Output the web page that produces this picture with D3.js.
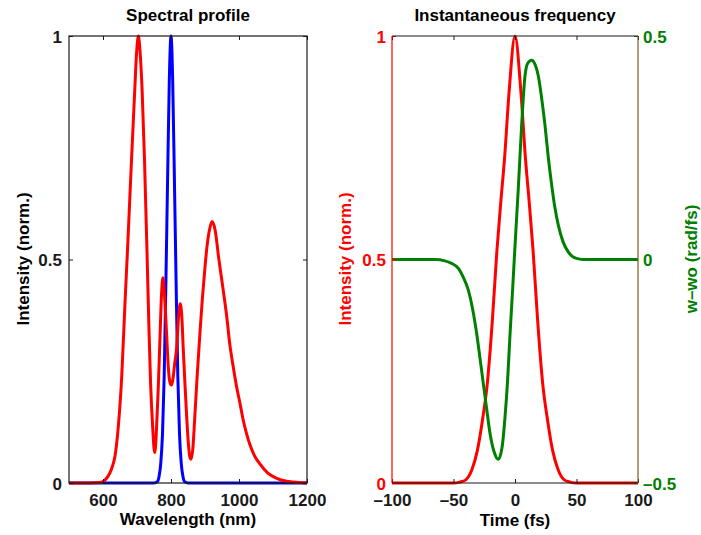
<!DOCTYPE html>
<html>
<head>
<meta charset="utf-8">
<script src="https://cdn.jsdelivr.net/npm/d3@7"></script>
<style>
  body { margin: 0; background: #fff; }
  svg { display: block; font-family: "Liberation Sans", Arial, Helvetica, sans-serif; font-weight: bold; }
</style>
</head>
<body>
<svg></svg>
<script>
// two-panel pulse figure: spectrum (left), intensity + instantaneous frequency (right)

const width = 701;
const height = 535;

// spectrum (nm -> norm. intensity)
const specWl = [500, 560, 590, 600, 610, 620, 628, 635, 645, 655, 665, 672, 684, 693, 699, 704, 709, 715, 722, 730, 735, 740, 746, 752, 756, 759, 763, 768, 772, 776, 780, 787, 792, 797, 802, 807, 811, 816, 822, 827, 832, 836, 841, 846, 851, 855, 859, 864, 870, 877, 885, 892, 900, 906, 912, 921, 930, 940, 952, 964, 973, 983, 993, 1003, 1012, 1022, 1032, 1045, 1062, 1085, 1111, 1140, 1160, 1200];
const specOut = [0, 0, 0.001, 0.003, 0.01, 0.022, 0.038, 0.059, 0.126, 0.237, 0.408, 0.52, 0.725, 0.873, 0.965, 1.0, 0.965, 0.88, 0.725, 0.5, 0.35, 0.222, 0.126, 0.068, 0.1, 0.15, 0.222, 0.334, 0.42, 0.459, 0.43, 0.334, 0.26, 0.225, 0.219, 0.24, 0.268, 0.297, 0.37, 0.401, 0.37, 0.3, 0.222, 0.15, 0.089, 0.06, 0.053, 0.075, 0.148, 0.24, 0.334, 0.41, 0.483, 0.53, 0.562, 0.585, 0.565, 0.505, 0.44, 0.372, 0.31, 0.26, 0.215, 0.178, 0.142, 0.111, 0.086, 0.062, 0.042, 0.022, 0.0105, 0.004, 0.002, 0];

const specInWl = [500, 750, 760, 765, 770, 775, 780, 785, 790, 795, 800, 805, 810, 815, 820, 825, 830, 835, 840, 850, 1200];
const specIn = [0, 0, 0.003, 0.015, 0.045, 0.11, 0.24, 0.45, 0.68, 0.9, 1, 0.9, 0.68, 0.45, 0.24, 0.11, 0.045, 0.015, 0.003, 0, 0];

// temporal intensity (fs -> norm.)
const timeI = [-100, -50, -45, -40, -35, -30.5, -26.5, -22.5, -18.5, -14.7, -11.5, -8.5, -4.8, 0, 4.8, 8.5, 11.5, 14.7, 18.5, 22.5, 26.5, 30.5, 35, 40, 45, 50, 100];
const intensity = [0, 0, 0.002, 0.007, 0.03, 0.074, 0.14, 0.223, 0.36, 0.52, 0.63, 0.726, 0.875, 1, 0.875, 0.726, 0.63, 0.52, 0.36, 0.223, 0.14, 0.074, 0.03, 0.007, 0.002, 0, 0];

// instantaneous frequency offset (fs -> rad/fs)
const timeW = [-100, -65, -57, -52, -46, -42, -38, -34.5, -31.2, -28.5, -25.8, -23, -20.3, -17, -13.6, -10.5, -8.1, -6, -4.1, -2, 0, 2.7, 5.4, 8.1, 10.5, 13.6, 16.5, 19, 21.7, 24.4, 27, 29.8, 32.5, 35.2, 39, 43.3, 47, 51, 56, 100];
const dOmega = [0, 0, -0.003, -0.008, -0.02, -0.04, -0.068, -0.11, -0.165, -0.22, -0.277, -0.335, -0.389, -0.43, -0.447, -0.42, -0.352, -0.27, -0.17, -0.07, 0.03, 0.16, 0.3, 0.41, 0.44, 0.446, 0.435, 0.41, 0.36, 0.3, 0.23, 0.167, 0.115, 0.077, 0.04, 0.017, 0.006, 0.002, 0, 0];

const xTicksL = [600, 800, 1000, 1200];
const yTicks = [0, 0.5, 1];
const xTicksR = [-100, -50, 0, 50, 100];
const yTicksW = [-0.5, 0, 0.5];

const RED = "#ff0000", BLUE = "#0000ff", GREEN = "#008000", AX = "#1a1a1a";
const yTop = 36, yBot = 483;

const svg = d3.select("svg").attr("width", width).attr("height", height);

const fmt = d => String(d).replace("-", "\u2013");
const zip = (a, b) => a.map((v, i) => [v, b[i]]);

function styleAxis(g, color) {
  g.select(".domain").remove();
  g.selectAll("line").attr("stroke", color);
  g.selectAll("text").attr("fill", color).attr("font-size", 17).attr("font-family", null);
}

// ---------- left panel ----------
const x1 = d3.scaleLinear().domain([500, 1200]).range([69, 307]);
const y1 = d3.scaleLinear().domain([0, 1]).range([yBot, yTop]);

const line1 = d3.line().x(d => x1(d[0])).y(d => y1(d[1])).curve(d3.curveMonotoneX);

const left = svg.append("g");

left.append("path").datum(zip(specInWl, specIn))
  .attr("fill", "none").attr("stroke", BLUE).attr("stroke-width", 3)
  .attr("stroke-linejoin", "round").attr("d", line1);
left.append("path").datum(zip(specWl, specOut))
  .attr("fill", "none").attr("stroke", RED).attr("stroke-width", 3)
  .attr("stroke-linejoin", "round").attr("d", line1);

left.append("g").attr("transform", `translate(0,${yBot})`)
  .call(d3.axisBottom(x1).tickValues(xTicksL).tickSize(-4).tickPadding(11).tickFormat(fmt))
  .call(g => styleAxis(g, AX));
left.append("g").attr("transform", `translate(0,${yTop})`)
  .call(d3.axisTop(x1).tickValues(xTicksL).tickSize(-4).tickFormat(""))
  .call(g => styleAxis(g, AX));
left.append("g").attr("transform", `translate(69,0)`)
  .call(d3.axisLeft(y1).tickValues(yTicks).tickSize(-4).tickPadding(7).tickFormat(d3.format("")))
  .call(g => styleAxis(g, AX))
  .call(g => g.selectAll("text").attr("dy", "0.38em"));
left.append("g").attr("transform", `translate(307,0)`)
  .call(d3.axisRight(y1).tickValues(yTicks).tickSize(-4).tickFormat(""))
  .call(g => styleAxis(g, AX));

left.append("rect").attr("x", 69).attr("y", yTop).attr("width", 307 - 69).attr("height", yBot - yTop)
  .attr("fill", "none").attr("stroke", AX).attr("stroke-width", 1.2);

left.append("text").attr("x", 188).attr("y", 21).attr("text-anchor", "middle")
  .attr("font-size", 17).text("Spectral profile");
left.append("text").attr("x", 188).attr("y", 525).attr("text-anchor", "middle")
  .attr("font-size", 17).text("Wavelength (nm)");
left.append("text").attr("transform", "translate(29,259) rotate(-90)").attr("text-anchor", "middle")
  .attr("font-size", 17).text("Intensity (norm.)");

// ---------- right panel ----------
const x2 = d3.scaleLinear().domain([-100, 100]).range([392, 638]);
const y2 = d3.scaleLinear().domain([0, 1]).range([yBot, yTop]);
const y3 = d3.scaleLinear().domain([-0.5, 0.5]).range([yBot, yTop]);

const right = svg.append("g");

right.append("path").datum(zip(timeI, intensity))
  .attr("fill", "none").attr("stroke", RED).attr("stroke-width", 3)
  .attr("d", d3.line().x(d => x2(d[0])).y(d => y2(d[1])).curve(d3.curveMonotoneX));
right.append("path").datum(zip(timeW, dOmega))
  .attr("fill", "none").attr("stroke", GREEN).attr("stroke-width", 3)
  .attr("d", d3.line().x(d => x2(d[0])).y(d => y3(d[1])).curve(d3.curveMonotoneX));

right.append("g").attr("transform", `translate(0,${yBot})`)
  .call(d3.axisBottom(x2).tickValues(xTicksR).tickSize(-4).tickPadding(11).tickFormat(fmt))
  .call(g => styleAxis(g, AX));
right.append("g").attr("transform", `translate(0,${yTop})`)
  .call(d3.axisTop(x2).tickValues(xTicksR).tickSize(-4).tickFormat(""))
  .call(g => styleAxis(g, AX));
right.append("g").attr("transform", `translate(392,0)`)
  .call(d3.axisLeft(y2).tickValues(yTicks).tickSize(-4).tickPadding(6).tickFormat(d3.format("")))
  .call(g => styleAxis(g, RED))
  .call(g => g.selectAll("text").attr("dy", "0.38em"));
right.append("g").attr("transform", `translate(638,0)`)
  .call(d3.axisRight(y3).tickValues(yTicksW).tickSize(-4).tickPadding(5).tickFormat(fmt))
  .call(g => styleAxis(g, GREEN))
  .call(g => g.selectAll("text").attr("dy", "0.38em"));

right.append("line").attr("x1", 392).attr("x2", 638).attr("y1", yTop).attr("y2", yTop)
  .attr("stroke", AX).attr("stroke-width", 1.2);
right.append("line").attr("x1", 392).attr("x2", 638).attr("y1", yBot).attr("y2", yBot)
  .attr("stroke", AX).attr("stroke-width", 1.2);
right.append("line").attr("x1", 392).attr("x2", 392).attr("y1", yTop).attr("y2", yBot)
  .attr("stroke", RED).attr("stroke-width", 1.2);
right.append("line").attr("x1", 638).attr("x2", 638).attr("y1", yTop).attr("y2", yBot)
  .attr("stroke", "#7a5c1e").attr("stroke-width", 1.2);

right.append("text").attr("x", 515).attr("y", 21).attr("text-anchor", "middle")
  .attr("font-size", 17).text("Instantaneous frequency");
right.append("text").attr("x", 515).attr("y", 526).attr("text-anchor", "middle")
  .attr("font-size", 17).text("Time (fs)");
right.append("text").attr("transform", "translate(351,259) rotate(-90)").attr("text-anchor", "middle")
  .attr("font-size", 17).attr("fill", RED).text("Intensity (norm.)");
right.append("text").attr("transform", "translate(697,259) rotate(-90)").attr("text-anchor", "middle")
  .attr("font-size", 17).attr("fill", GREEN).text("w\u2013wo (rad/fs)");
</script>
</body>
</html>
